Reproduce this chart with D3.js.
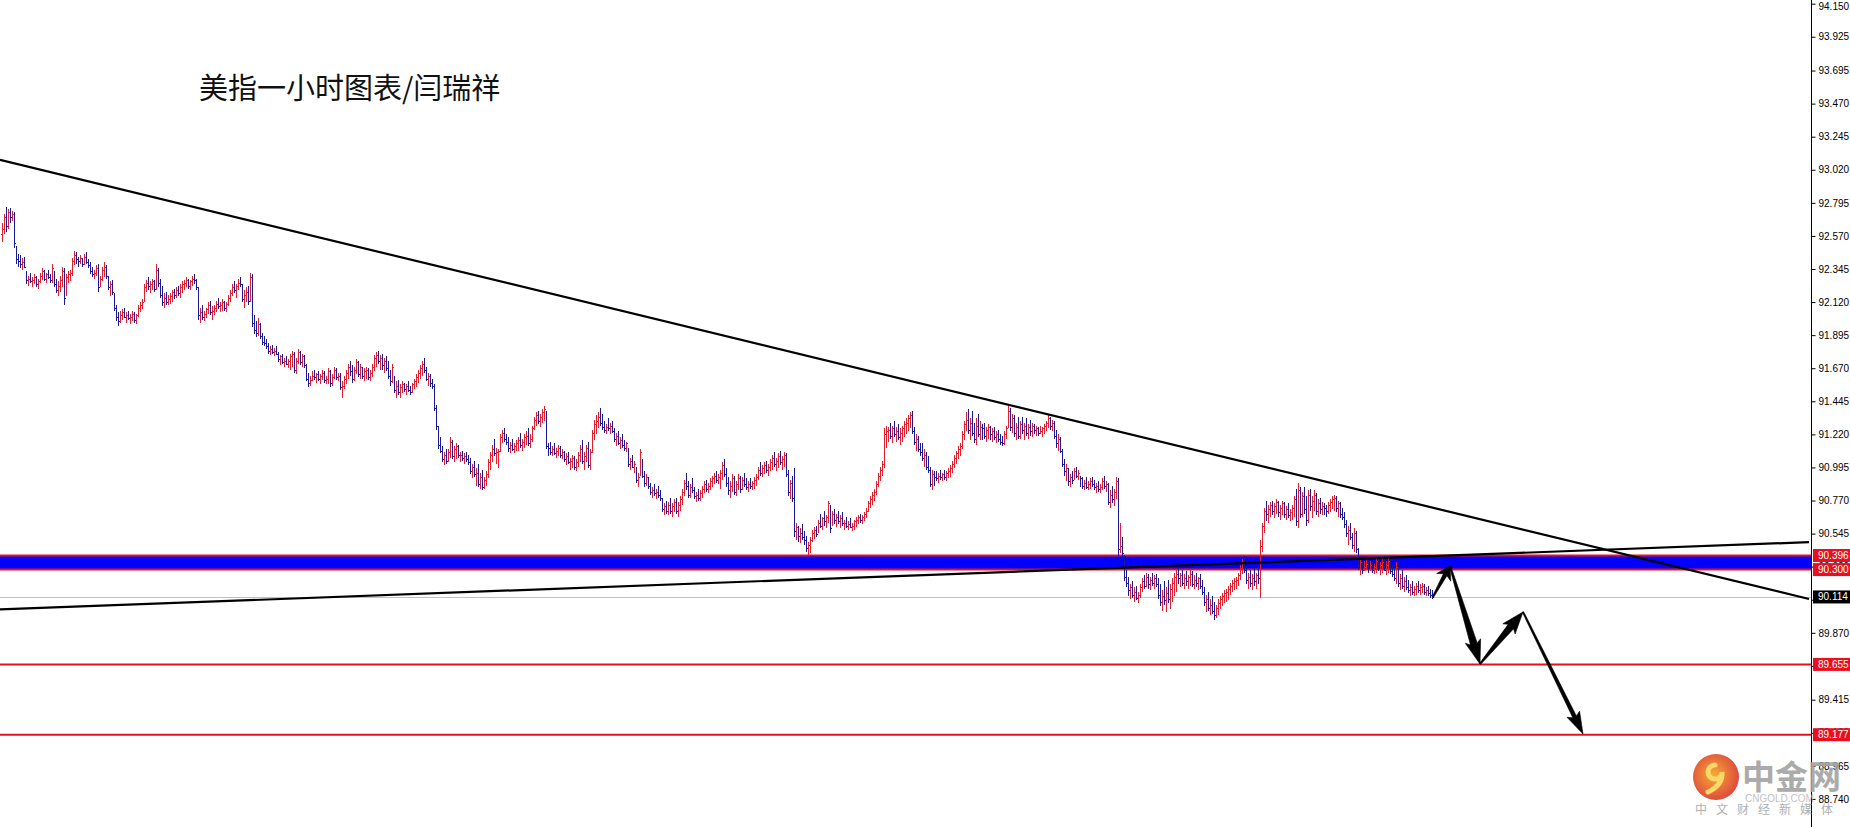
<!DOCTYPE html>
<html>
<head>
<meta charset="utf-8">
<script src="https://cdn.jsdelivr.net/npm/d3@7"></script>
<style>
html, body { margin: 0; padding: 0; background: #fff; overflow: hidden; }
svg { display: block; }
</style>
</head>
<body>
<svg id="chart" width="1850" height="827"></svg>
<script>
// hourly bars (open = previous close)
var firstOpen = 92.58;
var highs = [
92.66,92.72,92.77,92.75,92.76,92.74,92.73,92.50,92.45,92.44,
92.42,92.43,92.33,92.30,92.32,92.29,92.31,92.30,92.28,92.32,
92.35,92.34,92.32,92.34,92.31,92.38,92.33,92.28,92.26,92.30,
92.36,92.35,92.31,92.33,92.34,92.42,92.47,92.46,92.43,92.44,
92.42,92.45,92.46,92.41,92.39,92.36,92.34,92.37,92.38,92.30,
92.36,92.39,92.37,92.30,92.26,92.27,92.18,92.10,92.05,92.06,
92.07,92.08,92.05,92.06,92.04,92.06,92.05,92.04,92.10,92.12,
92.14,92.24,92.27,92.29,92.26,92.28,92.27,92.38,92.35,92.28,
92.23,92.18,92.19,92.17,92.18,92.20,92.21,92.22,92.23,92.24,
92.26,92.27,92.29,92.28,92.27,92.30,92.31,92.28,92.22,92.08,
92.10,92.06,92.08,92.12,92.13,92.09,92.10,92.13,92.15,92.12,
92.14,92.13,92.12,92.17,92.20,92.24,92.26,92.24,92.28,92.29,
92.24,92.20,92.22,92.23,92.32,92.31,92.03,91.99,92.01,91.98,
91.91,91.89,91.87,91.84,91.82,91.83,91.81,91.82,91.78,91.76,
91.77,91.74,91.75,91.73,91.77,91.79,91.78,91.74,91.80,91.79,
91.77,91.76,91.70,91.64,91.62,91.65,91.66,91.64,91.65,91.63,
91.66,91.65,91.62,91.67,91.66,91.63,91.68,91.67,91.64,91.64,
91.58,91.62,91.66,91.70,91.72,91.69,91.68,91.73,91.72,91.70,
91.68,91.67,91.68,91.67,91.66,91.70,91.76,91.78,91.79,91.76,
91.77,91.74,91.75,91.72,91.66,91.70,91.62,91.58,91.59,91.56,
91.58,91.57,91.56,91.58,91.55,91.57,91.60,91.63,91.66,91.69,
91.72,91.74,91.68,91.64,91.63,91.60,91.56,91.42,91.28,91.20,
91.14,91.10,91.12,91.12,91.20,91.18,91.14,91.16,91.15,91.10,
91.11,91.09,91.10,91.08,91.06,91.02,91.04,90.99,91.02,90.96,
90.98,90.93,90.97,91.05,91.10,91.15,91.19,91.13,91.12,91.22,
91.25,91.26,91.22,91.20,91.17,91.19,91.16,91.18,91.20,91.23,
91.19,91.22,91.24,91.26,91.22,91.28,91.34,91.37,91.38,91.36,
91.39,91.41,91.38,91.16,91.17,91.14,91.16,91.13,91.15,91.14,
91.12,91.11,91.09,91.10,91.06,91.08,91.07,91.05,91.10,91.15,
91.18,91.10,91.15,91.17,91.12,91.25,91.32,91.35,91.37,91.40,
91.36,91.31,91.29,91.33,91.30,91.31,91.26,91.23,91.24,91.20,
91.22,91.18,91.17,91.13,91.06,91.08,91.04,91.00,90.96,91.12,
91.05,90.97,90.95,90.93,90.89,90.86,90.88,90.85,90.87,90.84,
90.79,90.75,90.77,90.76,90.79,90.75,90.78,90.79,90.76,90.80,
90.85,90.91,90.96,90.90,90.88,90.92,90.86,90.83,90.85,90.84,
90.87,90.90,90.91,90.89,90.92,90.94,90.96,90.97,90.95,90.98,
91.03,91.05,90.99,90.93,90.90,90.95,90.94,90.90,90.95,90.94,
90.93,90.96,90.92,90.90,90.92,90.90,90.93,90.95,91.00,91.03,
91.01,91.03,91.04,91.02,91.05,91.08,91.10,91.06,91.09,91.11,
91.07,91.10,91.09,90.98,90.91,90.94,90.99,90.62,90.60,90.58,
90.61,90.56,90.53,90.49,90.52,90.57,90.59,90.60,90.64,90.68,
90.66,90.70,90.67,90.77,90.74,90.70,90.71,90.68,90.70,90.67,
90.69,90.64,90.66,90.63,90.65,90.62,90.64,90.66,90.67,90.68,
90.67,90.69,90.72,90.77,90.80,90.83,90.85,90.90,90.96,91.00,
91.04,91.26,91.28,91.27,91.30,91.28,91.31,91.27,91.29,91.26,
91.28,91.31,91.33,91.35,91.37,91.38,91.27,91.22,91.21,91.16,
91.16,91.12,91.10,91.07,91.00,90.98,90.97,90.97,90.96,90.98,
90.96,90.98,90.97,90.99,91.01,91.04,91.08,91.11,91.14,91.16,
91.24,91.31,91.37,91.39,91.33,91.38,91.30,91.33,91.36,91.31,
91.29,91.30,91.27,91.29,91.28,91.26,91.27,91.24,91.25,91.22,
91.21,91.24,91.28,91.41,91.40,91.36,91.35,91.30,91.34,91.31,
91.34,91.30,91.33,91.29,91.32,91.30,91.29,91.28,91.27,91.28,
91.27,91.29,91.31,91.35,91.34,91.32,91.31,91.25,91.22,91.20,
91.12,91.05,91.02,90.99,90.95,90.97,90.99,91.00,90.98,90.94,
90.93,90.91,90.93,90.90,90.92,90.93,90.91,90.89,90.90,90.88,
90.92,90.94,90.90,90.89,90.84,90.87,90.85,90.93,90.92,90.62,
90.52,90.40,90.30,90.25,90.20,90.22,90.18,90.19,90.15,90.20,
90.24,90.26,90.28,90.27,90.25,90.28,90.26,90.27,90.24,90.20,
90.16,90.22,90.18,90.23,90.20,90.24,90.28,90.30,90.31,90.28,
90.30,90.27,90.29,90.26,90.30,90.29,90.26,90.28,90.25,90.27,
90.23,90.18,90.13,90.15,90.10,90.12,90.08,90.06,90.10,90.12,
90.14,90.16,90.17,90.19,90.21,90.23,90.24,90.25,90.28,90.33,
90.37,90.39,90.32,90.28,90.30,90.27,90.31,90.28,90.32,90.50,
90.62,90.72,90.77,90.74,90.76,90.77,90.75,90.78,90.77,90.74,
90.77,90.76,90.73,90.75,90.71,90.74,90.80,90.85,90.89,90.86,
90.83,90.86,90.80,90.84,90.85,90.80,90.84,90.82,90.78,90.79,
90.76,90.75,90.74,90.76,90.78,90.80,90.81,90.80,90.77,90.76,
90.72,90.69,90.64,90.60,90.62,90.55,90.58,90.56,90.45,90.38,
90.39,90.36,90.37,90.35,90.36,90.35,90.34,90.38,90.39,90.35,
90.37,90.39,90.36,90.38,90.39,90.33,90.33,90.35,90.34,90.27,
90.30,90.25,90.26,90.23,90.20,90.22,90.19,90.21,90.22,90.20,
90.21,90.20,90.18,90.19,90.17,90.16
];
var lows = [
92.53,92.58,92.60,92.62,92.66,92.67,92.49,92.38,92.36,92.35,
92.34,92.35,92.24,92.23,92.25,92.22,92.24,92.22,92.21,92.25,
92.27,92.26,92.25,92.28,92.25,92.25,92.22,92.18,92.16,92.19,
92.22,92.10,92.16,92.25,92.26,92.30,92.37,92.38,92.36,92.38,
92.36,92.37,92.38,92.35,92.31,92.29,92.28,92.30,92.19,92.22,
92.26,92.29,92.28,92.20,92.16,92.17,92.06,91.99,91.96,91.98,
92.00,92.01,91.98,92.00,91.97,91.99,91.98,91.97,92.02,92.05,
92.07,92.12,92.19,92.20,92.18,92.20,92.19,92.20,92.22,92.15,
92.09,92.08,92.10,92.10,92.11,92.12,92.14,92.15,92.16,92.15,
92.18,92.20,92.22,92.21,92.20,92.23,92.24,92.20,92.00,91.98,
92.00,91.99,92.01,92.04,92.03,92.00,92.03,92.05,92.07,92.05,
92.06,92.06,92.05,92.09,92.12,92.16,92.18,92.15,92.20,92.22,
92.12,92.08,92.12,92.10,92.12,91.95,91.90,91.88,91.89,91.87,
91.83,91.82,91.80,91.77,91.76,91.77,91.75,91.76,91.71,91.69,
91.70,91.68,91.69,91.67,91.66,91.68,91.64,91.63,91.70,91.69,
91.68,91.67,91.58,91.54,91.55,91.58,91.59,91.57,91.58,91.56,
91.59,91.57,91.56,91.56,91.54,91.55,91.60,91.59,91.58,91.52,
91.47,91.53,91.56,91.60,91.62,91.57,91.58,91.63,91.61,91.60,
91.60,91.58,91.60,91.59,91.58,91.61,91.65,91.68,91.70,91.66,
91.66,91.64,91.65,91.60,91.55,91.57,91.50,91.47,91.49,91.47,
91.50,91.51,91.49,91.51,91.49,91.50,91.53,91.54,91.57,91.60,
91.62,91.64,91.58,91.55,91.54,91.53,91.38,91.25,91.12,91.09,
91.03,91.01,91.02,91.03,91.06,91.05,91.03,91.05,91.06,91.03,
91.04,91.02,91.03,91.01,90.95,90.92,90.93,90.87,90.86,90.85,
90.84,90.85,90.87,90.92,90.98,91.03,91.07,91.02,90.99,91.10,
91.16,91.17,91.15,91.10,91.09,91.11,91.09,91.11,91.11,91.13,
91.11,91.13,91.15,91.14,91.13,91.17,91.25,91.28,91.29,91.27,
91.30,91.31,91.12,91.07,91.08,91.07,91.08,91.06,91.07,91.06,
91.05,91.03,91.01,91.02,90.98,90.99,90.98,90.97,91.00,91.03,
91.02,90.98,91.03,90.99,90.98,91.09,91.18,91.22,91.26,91.28,
91.25,91.23,91.22,91.24,91.22,91.23,91.17,91.14,91.15,91.12,
91.13,91.11,91.10,91.00,90.98,90.99,90.96,90.89,90.86,90.94,
90.92,90.86,90.87,90.85,90.81,90.79,90.80,90.78,90.79,90.77,
90.69,90.67,90.68,90.67,90.68,90.66,90.69,90.68,90.66,90.70,
90.74,90.80,90.84,90.79,90.79,90.82,90.78,90.76,90.77,90.77,
90.79,90.82,90.83,90.82,90.84,90.86,90.88,90.89,90.88,90.85,
90.91,90.93,90.86,90.81,90.79,90.83,90.81,90.80,90.84,90.82,
90.84,90.86,90.84,90.83,90.85,90.84,90.85,90.87,90.91,90.94,
90.93,90.95,90.96,90.94,90.97,90.98,91.00,90.97,90.99,91.01,
90.98,91.00,90.93,90.80,90.78,90.76,90.52,90.50,90.49,90.48,
90.50,90.47,90.42,90.40,90.41,90.49,90.51,90.52,90.55,90.58,
90.57,90.60,90.58,90.62,90.55,90.60,90.61,90.59,90.61,90.58,
90.60,90.57,90.58,90.57,90.58,90.56,90.57,90.59,90.61,90.62,
90.61,90.63,90.65,90.69,90.72,90.74,90.77,90.81,90.86,90.90,
90.94,90.99,91.13,91.17,91.19,91.16,91.20,91.17,91.18,91.15,
91.17,91.20,91.22,91.24,91.26,91.22,91.15,91.11,91.10,91.07,
91.04,91.00,90.98,90.96,90.86,90.84,90.87,90.90,90.89,90.91,
90.90,90.91,90.90,90.92,90.93,90.96,90.99,91.02,91.05,91.07,
91.12,91.18,91.24,91.22,91.18,91.21,91.16,91.15,91.20,91.18,
91.18,91.19,91.17,91.19,91.18,91.17,91.18,91.16,91.17,91.15,
91.14,91.15,91.19,91.26,91.24,91.23,91.20,91.18,91.19,91.19,
91.22,91.18,91.21,91.19,91.21,91.20,91.22,91.21,91.21,91.22,
91.20,91.22,91.24,91.26,91.25,91.24,91.19,91.13,91.11,91.09,
91.00,90.94,90.90,90.87,90.86,90.88,90.91,90.92,90.91,90.86,
90.85,90.84,90.85,90.84,90.85,90.86,90.84,90.82,90.83,90.82,
90.84,90.85,90.83,90.74,90.72,90.75,90.73,90.78,90.39,90.41,
90.38,90.22,90.18,90.12,90.10,90.11,90.08,90.09,90.07,90.11,
90.15,90.17,90.18,90.17,90.16,90.19,90.17,90.18,90.10,90.05,
90.02,90.06,90.01,90.07,90.03,90.08,90.12,90.15,90.20,90.18,
90.19,90.17,90.19,90.17,90.19,90.18,90.17,90.18,90.16,90.17,
90.13,90.05,90.01,90.02,89.99,90.00,89.96,89.97,89.99,90.03,
90.05,90.07,90.08,90.09,90.13,90.15,90.16,90.17,90.19,90.23,
90.27,90.28,90.20,90.17,90.18,90.16,90.19,90.17,90.20,90.11,
90.42,90.55,90.63,90.62,90.66,90.67,90.65,90.68,90.66,90.64,
90.67,90.65,90.64,90.65,90.63,90.64,90.66,90.60,90.58,90.65,
90.66,90.68,90.60,90.62,90.70,90.65,90.70,90.67,90.66,90.68,
90.67,90.67,90.66,90.68,90.69,90.71,90.70,90.69,90.66,90.65,
90.64,90.58,90.52,90.47,90.50,90.44,90.42,90.41,90.30,90.26,
90.27,90.29,90.30,90.28,90.29,90.28,90.27,90.28,90.29,90.26,
90.28,90.29,90.26,90.28,90.27,90.25,90.22,90.20,90.18,90.16,
90.17,90.15,90.16,90.14,90.12,90.13,90.12,90.13,90.14,90.13,
90.14,90.13,90.12,90.12,90.11,90.10
];
var closes = [
92.62,92.70,92.64,92.73,92.70,92.72,92.52,92.41,92.40,92.38,
92.39,92.36,92.27,92.28,92.26,92.27,92.29,92.24,92.26,92.30,
92.33,92.28,92.31,92.29,92.27,92.35,92.24,92.20,92.23,92.27,
92.33,92.15,92.29,92.31,92.32,92.40,92.44,92.41,92.40,92.42,
92.38,92.43,92.39,92.37,92.33,92.31,92.32,92.35,92.22,92.28,
92.34,92.36,92.30,92.22,92.24,92.19,92.08,92.02,91.99,92.03,
92.05,92.02,92.03,92.01,92.02,92.04,92.00,92.03,92.08,92.10,
92.12,92.22,92.25,92.23,92.24,92.26,92.21,92.34,92.25,92.17,
92.12,92.15,92.12,92.14,92.16,92.19,92.17,92.20,92.18,92.22,
92.24,92.25,92.27,92.23,92.26,92.28,92.27,92.22,92.03,92.05,
92.02,92.04,92.07,92.10,92.05,92.06,92.08,92.11,92.09,92.10,
92.12,92.08,92.11,92.15,92.18,92.22,92.20,92.23,92.25,92.24,
92.14,92.17,92.19,92.13,92.29,91.98,91.93,91.91,91.97,91.89,
91.85,91.84,91.82,91.79,91.80,91.78,91.79,91.77,91.73,91.75,
91.71,91.72,91.70,91.72,91.75,91.77,91.66,91.72,91.78,91.71,
91.75,91.69,91.60,91.57,91.59,91.62,91.61,91.63,91.60,91.62,
91.64,91.59,91.60,91.65,91.57,91.61,91.66,91.61,91.62,91.54,
91.55,91.60,91.64,91.68,91.65,91.60,91.66,91.71,91.63,91.68,
91.62,91.65,91.66,91.61,91.64,91.68,91.74,91.76,91.72,91.74,
91.69,91.72,91.67,91.62,91.58,91.68,91.52,91.55,91.51,91.54,
91.56,91.53,91.55,91.52,91.51,91.56,91.58,91.61,91.64,91.67,
91.70,91.66,91.60,91.62,91.57,91.55,91.40,91.28,91.15,91.11,
91.05,91.08,91.04,91.10,91.17,91.07,91.12,91.14,91.08,91.08,
91.06,91.07,91.05,91.03,90.97,91.00,90.95,90.96,90.88,90.93,
90.86,90.91,90.95,91.03,91.08,91.12,91.09,91.10,91.11,91.20,
91.23,91.19,91.17,91.13,91.15,91.12,91.14,91.16,91.18,91.15,
91.17,91.20,91.21,91.16,91.19,91.26,91.32,91.35,91.31,91.34,
91.37,91.39,91.14,91.13,91.10,91.12,91.09,91.11,91.13,91.08,
91.10,91.05,91.07,91.03,91.04,91.06,91.00,91.03,91.08,91.12,
91.04,91.07,91.13,91.01,91.10,91.23,91.29,91.31,91.34,91.30,
91.27,91.25,91.27,91.26,91.28,91.24,91.19,91.21,91.16,91.18,
91.15,91.13,91.16,91.02,91.04,91.00,91.02,90.91,90.93,91.10,
90.94,90.89,90.93,90.87,90.83,90.84,90.82,90.83,90.81,90.79,
90.71,90.73,90.70,90.74,90.70,90.73,90.76,90.70,90.74,90.78,
90.83,90.89,90.87,90.81,90.86,90.84,90.80,90.81,90.79,90.82,
90.85,90.88,90.85,90.87,90.90,90.92,90.94,90.91,90.93,90.96,
91.01,90.95,90.89,90.84,90.87,90.92,90.83,90.88,90.92,90.85,
90.91,90.88,90.86,90.88,90.87,90.89,90.91,90.93,90.98,90.96,
90.99,91.01,90.98,91.00,91.03,91.06,91.02,91.04,91.07,91.03,
91.05,91.08,90.95,90.83,90.89,90.79,90.56,90.59,90.53,90.55,
90.52,90.50,90.45,90.47,90.50,90.55,90.57,90.54,90.62,90.60,
90.65,90.63,90.66,90.75,90.58,90.68,90.64,90.66,90.63,90.65,
90.62,90.62,90.60,90.61,90.59,90.60,90.63,90.64,90.66,90.64,
90.66,90.68,90.70,90.75,90.78,90.81,90.83,90.88,90.94,90.98,
91.02,91.22,91.24,91.25,91.21,91.26,91.22,91.24,91.20,91.23,
91.26,91.29,91.30,91.33,91.35,91.24,91.17,91.19,91.12,91.10,
91.06,91.08,91.00,90.98,90.88,90.95,90.93,90.92,90.94,90.93,
90.95,90.93,90.96,90.97,90.99,91.02,91.06,91.09,91.12,91.14,
91.22,91.29,91.32,91.25,91.30,91.23,91.19,91.28,91.22,91.27,
91.26,91.21,91.25,91.27,91.22,91.24,91.20,91.22,91.19,91.17,
91.16,91.22,91.26,91.38,91.27,91.33,91.23,91.27,91.21,91.29,
91.25,91.28,91.23,91.27,91.24,91.28,91.25,91.26,91.23,91.24,
91.26,91.28,91.30,91.33,91.28,91.30,91.21,91.16,91.19,91.11,
91.02,90.97,90.99,90.90,90.93,90.91,90.97,90.94,90.96,90.92,
90.87,90.89,90.86,90.88,90.90,90.88,90.86,90.87,90.85,90.86,
90.90,90.87,90.88,90.76,90.81,90.78,90.83,90.90,90.44,90.46,
90.41,90.25,90.21,90.16,90.18,90.13,90.15,90.11,90.13,90.18,
90.22,90.19,90.25,90.20,90.23,90.21,90.24,90.20,90.13,90.08,
90.12,90.09,90.14,90.10,90.17,90.21,90.25,90.27,90.24,90.26,
90.21,90.24,90.22,90.25,90.27,90.20,90.23,90.21,90.24,90.19,
90.15,90.08,90.10,90.04,90.06,90.02,89.99,90.04,90.07,90.10,
90.12,90.14,90.15,90.17,90.19,90.21,90.22,90.23,90.26,90.31,
90.35,90.30,90.23,90.25,90.21,90.24,90.22,90.26,90.24,90.46,
90.60,90.70,90.68,90.71,90.74,90.70,90.73,90.76,90.69,90.72,
90.75,90.68,90.71,90.67,90.69,90.72,90.78,90.63,90.84,90.68,
90.80,90.71,90.64,90.81,90.73,90.77,90.81,90.70,90.75,90.71,
90.73,90.72,90.70,90.74,90.76,90.78,90.79,90.72,90.75,90.68,
90.66,90.61,90.55,90.57,90.52,90.47,90.55,90.44,90.33,90.35,
90.30,90.32,90.34,90.31,90.33,90.30,90.32,90.36,90.31,90.33,
90.35,90.30,90.33,90.36,90.29,90.27,90.24,90.32,90.21,90.24,
90.19,90.22,90.18,90.16,90.18,90.15,90.17,90.19,90.16,90.18,
90.19,90.15,90.16,90.14,90.13,90.114
];

var tickLabels = [94.150, 93.925, 93.695, 93.470, 93.245, 93.020, 92.795, 92.570, 92.345,
  92.120, 91.895, 91.670, 91.445, 91.220, 90.995, 90.770, 90.545, 90.320, 90.095,
  89.870, 89.645, 89.415, 89.190, 88.965, 88.740];

var bandPrices = [90.396, 90.300];
var targetPrices = [89.655, 89.177];
var lastPrice = 90.114;

// trend lines as [bar index, price]
var downTrend = [[-1, 93.087], [903.5, 90.100]];
var upTrend = [[-1, 90.029], [903.5, 90.487]];

// hand drawn arrow path, [bar index, price]
var arrowPath = [[715.5, 90.114], [724, 90.325], [739, 89.658], [760.5, 90.012], [790.5, 89.182]];

var titleText = "美指一小时图表/闫瑞祥";

var W = 1850, H = 827, axisX = 1811;

var svg = d3.select("#chart");

var x = d3.scaleLinear().domain([-1, 903.5]).range([0, 1809]);
var y = d3.scaleLinear().domain([88.549, 94.175]).range([H, 0]);

var bars = highs.map(function(h, i) {
  return { i: i, h: h, l: lows[i], c: closes[i], o: i ? closes[i - 1] : firstOpen };
});

// blue zone
svg.append("rect")
  .attr("x", 0).attr("width", axisX)
  .attr("y", y(bandPrices[0])).attr("height", y(bandPrices[1]) - y(bandPrices[0]))
  .attr("fill", "#0000ff");

svg.selectAll("line.band").data(bandPrices).enter()
  .append("line").attr("class", "band")
  .attr("x1", 0).attr("x2", axisX)
  .attr("y1", function(d) { return y(d); }).attr("y2", function(d) { return y(d); })
  .attr("stroke", "#e8101e").attr("stroke-width", 2);

// last price line
svg.append("line")
  .attr("x1", 0).attr("x2", axisX)
  .attr("y1", Math.round(y(lastPrice)) + 0.5).attr("y2", Math.round(y(lastPrice)) + 0.5)
  .attr("stroke", "#c0c0c0").attr("stroke-width", 1);

svg.selectAll("line.target").data(targetPrices).enter()
  .append("line").attr("class", "target")
  .attr("x1", 0).attr("x2", axisX)
  .attr("y1", function(d) { return y(d); }).attr("y2", function(d) { return y(d); })
  .attr("stroke", "#e8101e").attr("stroke-width", 2);

// bars
var gb = svg.append("g").attr("shape-rendering", "crispEdges");
var col = function(d) { return d.c >= d.o ? "#e0202e" : "#1a1a96"; };
gb.selectAll("rect.hl").data(bars).enter().append("rect")
  .attr("x", function(d) { return Math.round(x(d.i)); })
  .attr("y", function(d) { return Math.round(y(d.h)); })
  .attr("width", 1)
  .attr("height", function(d) { return Math.max(1, Math.round(y(d.l)) - Math.round(y(d.h))); })
  .attr("fill", col);
gb.selectAll("rect.op").data(bars).enter().append("rect")
  .attr("x", function(d) { return Math.round(x(d.i)) - 1; })
  .attr("y", function(d) { return Math.round(y(d.o)); })
  .attr("width", 1).attr("height", 1)
  .attr("fill", col);
gb.selectAll("rect.cl").data(bars).enter().append("rect")
  .attr("x", function(d) { return Math.round(x(d.i)) + 1; })
  .attr("y", function(d) { return Math.round(y(d.c)); })
  .attr("width", 1).attr("height", 1)
  .attr("fill", col);

// trend lines
var line = d3.line().x(function(d) { return x(d[0]); }).y(function(d) { return y(d[1]); });
svg.selectAll("path.trend").data([downTrend, upTrend]).enter()
  .append("path").attr("class", "trend")
  .attr("d", line)
  .attr("fill", "none").attr("stroke", "#000").attr("stroke-width", 2.2);

// arrows: [head length, head half width, shaft half width]
var heads = [[13, 8, 2], [24, 8, 3.5], [22, 8, 3.5], [22, 7, 2]];
function arrowPoly(x0, y0, x1, y1, hl, hw, sw) {
  var dx = x1 - x0, dy = y1 - y0, L = Math.hypot(dx, dy);
  var ux = dx / L, uy = dy / L, nx = -uy, ny = ux;
  function p(a, b) { return [x0 + ux * a + nx * b, y0 + uy * a + ny * b]; }
  var b = L - hl;
  return [p(0, 0.7), p(b + 3, sw), p(b, hw), p(L, 0), p(b, -hw), p(b + 3, -sw), p(0, -0.7)];
}
var segs = d3.pairs(arrowPath);
svg.selectAll("polygon.arrow").data(segs).enter()
  .append("polygon").attr("class", "arrow")
  .attr("points", function(d, k) {
    var h = heads[k];
    var pts = arrowPoly(x(d[0][0]), y(d[0][1]), x(d[1][0]), y(d[1][1]), h[0], h[1], h[2]);
    return pts.map(function(p) { return p.join(","); }).join(" ");
  })
  .attr("fill", "#000").attr("stroke", "#000").attr("stroke-width", 0.6).attr("stroke-linejoin", "round");

// price axis
var axis = d3.axisRight(y).tickValues(tickLabels).tickFormat(d3.format(".3f")).tickSize(4).tickSizeOuter(0).tickPadding(3);
var ga = svg.append("g").attr("transform", "translate(" + (axisX + 0.5) + ",0)").call(axis);
ga.selectAll("line").attr("stroke", "#000");
ga.selectAll("text").attr("font-family", "'Liberation Sans', Arial, sans-serif").attr("font-size", 10).attr("fill", "#000");
ga.select(".domain").attr("stroke", "#000").attr("d", "M0,0V" + H);
ga.selectAll(".tick").filter(function(d) { return d > 94; }).select("text").attr("dy", "0.55em");

// level price boxes
var boxes = bandPrices.map(function(p) { return { p: p, bg: "#e8101e" }; })
  .concat([{ p: lastPrice, bg: "#000" }])
  .concat(targetPrices.map(function(p) { return { p: p, bg: "#e8101e" }; }));
var gl = svg.selectAll("g.lvl").data(boxes).enter().append("g").attr("class", "lvl")
  .attr("transform", function(d) { return "translate(" + (axisX + 2) + "," + y(d.p) + ")"; });
gl.append("rect").attr("x", 0).attr("y", -6.5).attr("width", 38).attr("height", 13).attr("fill", function(d) { return d.bg; });
gl.append("text").attr("x", 5).attr("dy", "0.34em")
  .attr("font-family", "'Liberation Sans', Arial, sans-serif").attr("font-size", 10).attr("fill", "#fff")
  .text(function(d) { return d3.format(".3f")(d.p); });

// title
svg.append("text").attr("x", 199).attr("y", 99)
  .attr("font-family", "'Noto Sans CJK SC', sans-serif").attr("font-size", 29).attr("fill", "#111")
  .text(titleText);

// watermark
var defs = svg.append("defs");
var rg = defs.append("radialGradient").attr("id", "lg").attr("cx", "45%").attr("cy", "45%").attr("r", "60%");
rg.append("stop").attr("offset", "0%").attr("stop-color", "#f7a21d");
rg.append("stop").attr("offset", "100%").attr("stop-color", "#d8302a");
var wm = svg.append("g").attr("opacity", 0.9);
var lg = wm.append("g").attr("transform", "translate(1716,777)");
lg.append("circle").attr("r", 23).attr("fill", "url(#lg)");
lg.append("path").attr("d", "M -1,-12 A 7 7 0 1 0 6,-5 Q 7,8 -8,15")
  .attr("fill", "none").attr("stroke", "#fcd45a").attr("stroke-width", 5).attr("stroke-linecap", "round");
wm.append("text").attr("x", 1742).attr("y", 789)
  .attr("font-family", "'Noto Sans CJK SC', sans-serif").attr("font-weight", 700).attr("font-size", 33).attr("fill", "#a3a3a3")
  .text("中金网");
wm.append("text").attr("x", 1745).attr("y", 802)
  .attr("font-family", "'Liberation Sans', Arial, sans-serif").attr("font-size", 10).attr("fill", "#bdbdbd")
  .text("CNGOLD.COM");
wm.append("text").attr("x", 1695).attr("y", 814)
  .attr("font-family", "'Noto Sans CJK SC', sans-serif").attr("font-size", 12).attr("fill", "#a8a8a8")
  .attr("letter-spacing", 9)
  .text("中文财经新媒体");
</script>
</body>
</html>
